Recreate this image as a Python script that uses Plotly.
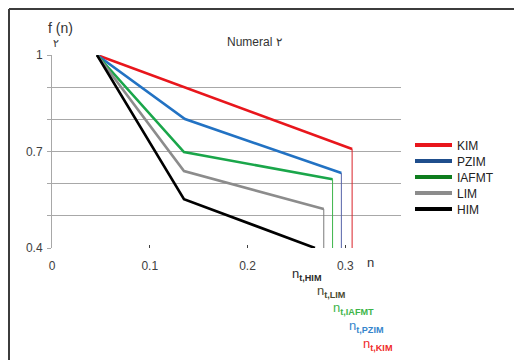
import plotly.graph_objects as go

# ---- data ----
series_names = ["KIM", "PZIM", "IAFMT", "LIM", "HIM"]
n_start = 0.046
f_start = 1.0
n_kink = [None, 0.136, 0.135, 0.135, 0.135]
f_kink = [None, 0.801, 0.698, 0.639, 0.552]
n_end = [0.307, 0.296, 0.287, 0.278, 0.269]
f_end = [0.708, 0.633, 0.614, 0.521, 0.400]
f_floor = 0.4

line_colors = ["#e8161c", "#2272c3", "#1aa64a", "#8c8c8c", "#000000"]
drop_colors = ["#d9232a", "#5563a8", "#3cb54a", "#7a7a7a", "#000000"]
label_colors = ["#f02a2a", "#3585cc", "#3db549", "#4a4a30", "#2a2a2a"]
legend_colors = ["#e8161c", "#1f4e8c", "#0e7d1e", "#8c8c8c", "#000000"]

x_ticks = [0, 0.1, 0.2, 0.3]
x_tick_labels = ["0", "0.1", "0.2", "0.3"]

# page is offset by the 8px body margin; layout numbers below are in figure pixels
L, T, B, R = 44, 47, 120, 129
PW = 522 - L - R
PH = 360 - T - B

def px(x):
    return (x - 8 - L) / PW

def py(y):
    return (360 - B - (y - 8)) / PH

fig = go.Figure()

legend_ids = ["legend", "legend2", "legend3", "legend4", "legend5"]
legend_y_page = [145, 161, 177, 193, 209]

for i, name in enumerate(series_names):
    xs = [n_start]
    ys = [f_start]
    if n_kink[i] is not None:
        xs.append(n_kink[i]); ys.append(f_kink[i])
    xs.append(n_end[i]); ys.append(f_end[i])
    fig.add_trace(go.Scatter(x=xs, y=ys, mode="lines", name=name,
                             line=dict(color=line_colors[i], width=2.6),
                             showlegend=False))
    if f_end[i] > f_floor:
        fig.add_trace(go.Scatter(x=[n_end[i], n_end[i]], y=[f_end[i], f_floor],
                                 mode="lines", line=dict(color=drop_colors[i], width=1),
                                 showlegend=False, hoverinfo="skip"))
    fig.add_trace(go.Scatter(x=[None], y=[None], mode="lines", name=name,
                             legend=legend_ids[i],
                             line=dict(color=legend_colors[i], width=4)))

# n_t labels below the axis (page pixel positions of left edge / middle)
label_page = [(361, 344), (347, 326), (331, 308), (315, 291), (290, 274)]
for i, name in enumerate(series_names):
    lx, ly = label_page[i]
    fig.add_annotation(x=px(lx), y=py(ly), xref="paper", yref="paper", showarrow=False,
                       xanchor="left", yanchor="middle",
                       text="n<sub><b>t,%s</b></sub>" % name,
                       font=dict(size=13, color=label_colors[i]))

fig.add_annotation(x=px(60), y=py(28), xref="paper", yref="paper", showarrow=False,
                   xanchor="center", yanchor="middle",
                   text="f (n)", font=dict(size=14, color="#333333"))
fig.add_annotation(x=px(56), y=py(43), xref="paper", yref="paper", showarrow=False,
                   xanchor="center", yanchor="middle",
                   text="۲", font=dict(size=11, color="#333333"))
fig.add_annotation(x=px(255), y=py(42), xref="paper", yref="paper", showarrow=False,
                   xanchor="center", yanchor="middle",
                   text="Numeral ۲", font=dict(size=12, color="#333333"))
fig.add_annotation(x=px(370), y=py(262), xref="paper", yref="paper", showarrow=False,
                   xanchor="center", yanchor="middle",
                   text="n", font=dict(size=13, color="#333333"))

# frame (top and left edges)
fig.add_shape(type="line", xref="paper", yref="paper", x0=px(9), x1=px(530),
              y0=py(9), y1=py(9), line=dict(color="#3c3c3c", width=2))
fig.add_shape(type="line", xref="paper", yref="paper", x0=px(9), x1=px(9),
              y0=py(9), y1=py(370), line=dict(color="#3c3c3c", width=2))

layout_legends = {}
for i, lid in enumerate(legend_ids):
    layout_legends[lid] = dict(x=px(410), y=py(legend_y_page[i]), xanchor="left",
                               yanchor="middle", font=dict(size=12, color="#222222"),
                               bgcolor="rgba(0,0,0,0)", itemwidth=37)

fig.update_layout(
    width=522, height=360,
    margin=dict(l=L, r=R, t=T, b=B),
    paper_bgcolor="white", plot_bgcolor="white",
    font=dict(family="Arial, Liberation Sans, sans-serif", size=12, color="#404040"),
    showlegend=True,
    **layout_legends,
)
fig.update_xaxes(range=[0, 0.357], tickvals=x_ticks, ticktext=x_tick_labels,
                 showgrid=False, zeroline=False, showline=False,
                 ticks="inside", ticklen=3, tickcolor="#404040",
                 ticklabelstandoff=9)
fig.update_yaxes(range=[0.4, 1.0], tick0=0.4, dtick=0.3, tickmode="linear",
                 showgrid=True, gridcolor="#a8a8a8", gridwidth=1,
                 zeroline=False, showline=True, linecolor="#a8a8a8",
                 ticks="outside", ticklen=4, tickcolor="#a8a8a8",
                 minor=dict(dtick=0.1, tick0=0.4, showgrid=True, gridcolor="#a8a8a8",
                            ticks="outside", ticklen=4, tickcolor="#a8a8a8"),
                 ticklabelstandoff=2)

fig.write_html("out.html")
